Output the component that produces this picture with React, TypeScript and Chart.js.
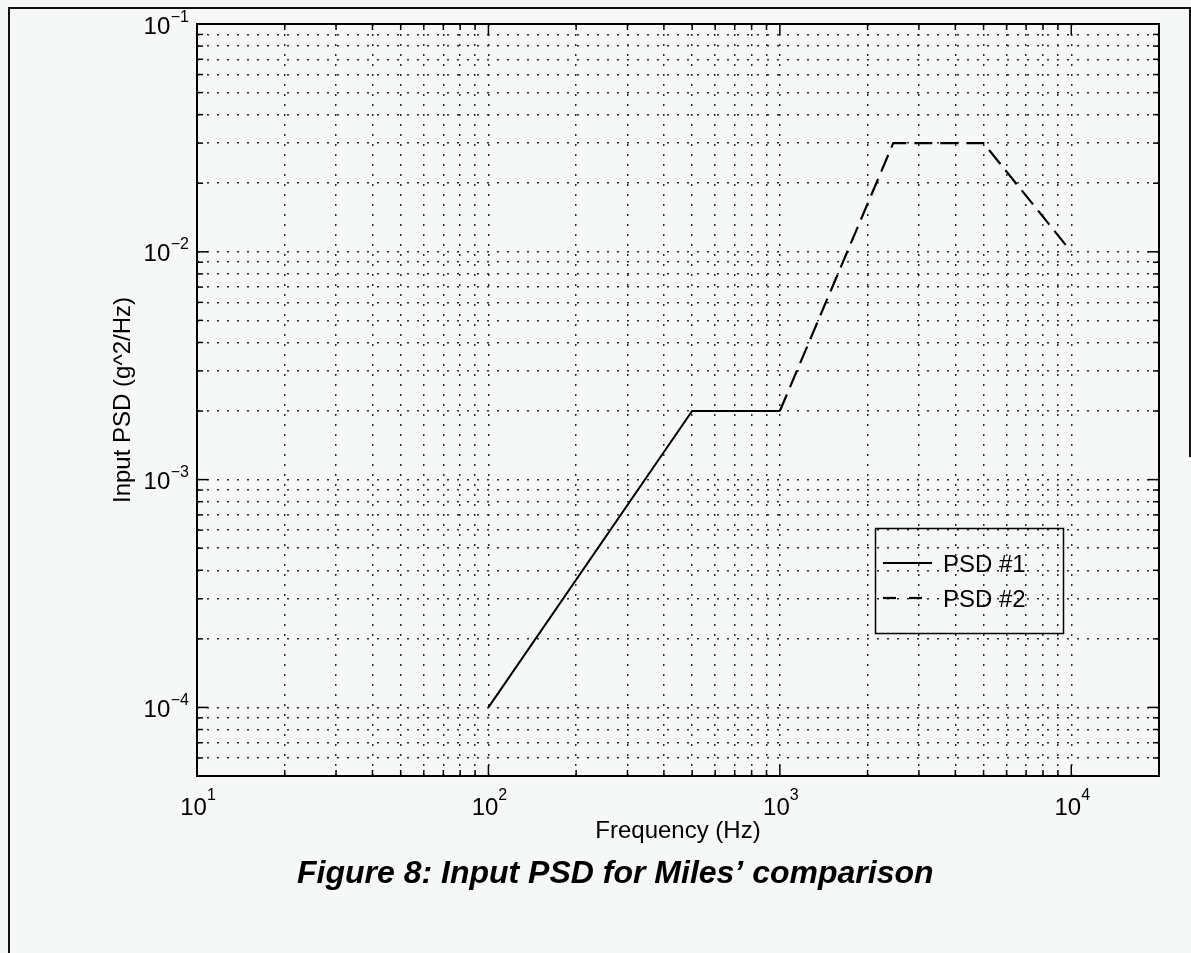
import React, { useEffect, useRef } from 'react';
import { Chart, registerables } from 'chart.js';

Chart.register(...registerables);

// ---- data ----
const seriesLabels = ['PSD #1', 'PSD #2'];
const psd1Freq = [100, 500, 1000];
const psd1Val = [1e-4, 2e-3, 2e-3];
const psd2Freq = [1000, 2450, 5000, 10000];
const psd2Val = [2e-3, 3e-2, 3e-2, 1e-2];

// ---- axes ----
const xRange = [10, 20000];
const yRange = [5e-5, 0.1];
const xDecades = [10, 100, 1000, 10000];
const xExponents = ['1', '2', '3', '4'];
const yDecades = [1e-4, 1e-3, 1e-2, 1e-1];
const yExponents = ['\u22124', '\u22123', '\u22122', '\u22121'];
const mantissas = [1, 2, 3, 4, 5, 6, 7, 8, 9];
const xTitle = 'Frequency (Hz)';
const yTitle = 'Input PSD (g^2/Hz)';
const caption = 'Figure 8: Input PSD for Miles\u2019 comparison';

const FONT = '"Liberation Sans", Arial, Helvetica, sans-serif';
const BG = '#f6f8f7';

type G = { v: number; major: boolean };
function gridValues(range: number[]): G[] {
  const out: G[] = [];
  const d0 = Math.floor(Math.log10(range[0]));
  const d1 = Math.ceil(Math.log10(range[1]));
  for (let d = d0; d <= d1; d++) {
    for (const m of mantissas) {
      const v = m * Math.pow(10, d);
      if (v >= range[0] * 0.9999 && v <= range[1] * 1.0001) out.push({ v, major: m === 1 });
    }
  }
  return out;
}
const xGrid = gridValues(xRange);
const yGrid = gridValues(yRange);

const decor = {
  id: 'decor',
  afterDatasetsDraw(chart: any) {
    const { ctx, chartArea: a, scales } = chart;
    const xs = scales.x;
    const ys = scales.y;
    ctx.save();
    ctx.strokeStyle = '#000';
    ctx.fillStyle = '#000';
    ctx.setLineDash([]);
    const line = (x1: number, y1: number, x2: number, y2: number) => {
      ctx.beginPath();
      ctx.moveTo(x1, y1);
      ctx.lineTo(x2, y2);
      ctx.stroke();
    };
    // inward ticks
    ctx.lineWidth = 1.5;
    xGrid.forEach((g) => {
      const px = xs.getPixelForValue(g.v);
      const len = g.major ? 11 : 6;
      line(px, a.bottom, px, a.bottom - len);
      line(px, a.top, px, a.top + len);
    });
    yGrid.forEach((g) => {
      const py = ys.getPixelForValue(g.v);
      const len = g.major ? 11 : 6;
      line(a.left, py, a.left + len, py);
      line(a.right, py, a.right - len, py);
    });
    // box
    ctx.lineWidth = 2;
    ctx.strokeRect(a.left, a.top, a.right - a.left, a.bottom - a.top);

    // y tick labels
    ctx.textAlign = 'right';
    ctx.textBaseline = 'alphabetic';
    yDecades.forEach((v, i) => {
      const py = ys.getPixelForValue(v);
      ctx.font = `16px ${FONT}`;
      const ew = ctx.measureText(yExponents[i]).width;
      ctx.fillText(yExponents[i], a.left - 8, py - 2.5);
      ctx.font = `24px ${FONT}`;
      ctx.fillText('10', a.left - 8 - ew - 0.5, py + 9.5);
    });
    // x tick labels
    ctx.textAlign = 'left';
    xDecades.forEach((v, i) => {
      const px = xs.getPixelForValue(v);
      ctx.font = `24px ${FONT}`;
      const bw = ctx.measureText('10').width;
      ctx.font = `16px ${FONT}`;
      const ew = ctx.measureText(xExponents[i]).width;
      const start = px - (bw + ew) / 2 + 1;
      ctx.font = `24px ${FONT}`;
      ctx.fillText('10', start, 815);
      ctx.font = `16px ${FONT}`;
      ctx.fillText(xExponents[i], start + bw, 800);
    });
    // axis titles
    ctx.font = `24px ${FONT}`;
    ctx.textAlign = 'center';
    ctx.fillText(xTitle, (a.left + a.right) / 2, 838);
    ctx.save();
    ctx.translate(130, (a.top + a.bottom) / 2);
    ctx.rotate(-Math.PI / 2);
    ctx.fillText(yTitle, 0, 0);
    ctx.restore();

    // legend
    const lx = 875, ly = 528, lw = 188, lh = 105;
    ctx.lineWidth = 1.5;
    ctx.strokeRect(lx + 0.5, ly + 0.5, lw, lh);
    const rows = [563, 598];
    chart.data.datasets.forEach((ds: any, i: number) => {
      const y = rows[i];
      ctx.lineWidth = ds.borderWidth;
      ctx.setLineDash(i === 1 ? [13, 13] : []);
      line(883, y, 932, y);
      ctx.setLineDash([]);
      ctx.font = `24px ${FONT}`;
      ctx.textAlign = 'left';
      ctx.fillText(ds.label, 943, y + 8.5);
    });

    // caption
    ctx.font = `italic bold 32px ${FONT}`;
    ctx.textAlign = 'left';
    ctx.fillText(caption, 297, 883);
    ctx.restore();
  },
};

export default function App() {
  const ref = useRef<HTMLCanvasElement | null>(null);
  useEffect(() => {
    if (!ref.current) return;
    const chart = new Chart(ref.current, {
      type: 'line',
      data: {
        datasets: [
          {
            label: seriesLabels[0],
            data: psd1Freq.map((f, i) => ({ x: f, y: psd1Val[i] })),
            borderColor: '#000',
            borderWidth: 2,
            pointRadius: 0,
            fill: false,
            tension: 0,
          },
          {
            label: seriesLabels[1],
            data: psd2Freq.map((f, i) => ({ x: f, y: psd2Val[i] })),
            borderColor: '#000',
            borderWidth: 2.2,
            borderDash: [18, 8],
            pointRadius: 0,
            fill: false,
            tension: 0,
          },
        ],
      },
      options: {
        responsive: false,
        animation: false,
        events: [],
        layout: { padding: { left: 0, right: 32, top: 24, bottom: 0 } },
        plugins: {
          legend: { display: false },
          tooltip: { enabled: false },
          title: { display: false },
        },
        scales: {
          x: {
            type: 'logarithmic',
            position: 'bottom',
            min: xRange[0],
            max: xRange[1],
            afterFit: (s: any) => {
              s.height = 953 - 776;
            },
            afterBuildTicks: (s: any) => {
              s.ticks = xGrid.map((g) => ({ value: g.v, major: g.major }));
            },
            ticks: { display: false, autoSkip: false },
            grid: { color: '#2a2a2a', lineWidth: 1.5, drawTicks: false },
            border: { display: false, dash: [2, 8] },
          },
          y: {
            type: 'logarithmic',
            position: 'left',
            min: yRange[0],
            max: yRange[1],
            afterFit: (s: any) => {
              s.width = 197;
            },
            afterBuildTicks: (s: any) => {
              s.ticks = yGrid.map((g) => ({ value: g.v, major: g.major }));
            },
            ticks: { display: false, autoSkip: false },
            grid: { color: '#2a2a2a', lineWidth: 1.5, drawTicks: false },
            border: { display: false, dash: [2, 8] },
          },
        },
      } as any,
      plugins: [decor],
    });
    return () => chart.destroy();
  }, []);

  return (
    <div
      style={{
        position: 'absolute',
        left: 0,
        top: 0,
        width: 1191,
        height: 953,
        overflow: 'hidden',
        background: BG,
      }}
    >
      <div
        style={{
          position: 'absolute',
          left: 8,
          top: 7,
          width: 1191 - 8,
          height: 960,
          borderLeft: '2px solid #111',
          borderTop: '2px solid #111',
          boxSizing: 'border-box',
        }}
      />
      <div
        style={{
          position: 'absolute',
          left: 1189,
          top: 7,
          width: 2,
          height: 450,
          background: '#111',
        }}
      />
      <canvas
        ref={ref}
        width={1191}
        height={953}
        style={{ position: 'absolute', left: 0, top: 0 }}
      />
    </div>
  );
}
